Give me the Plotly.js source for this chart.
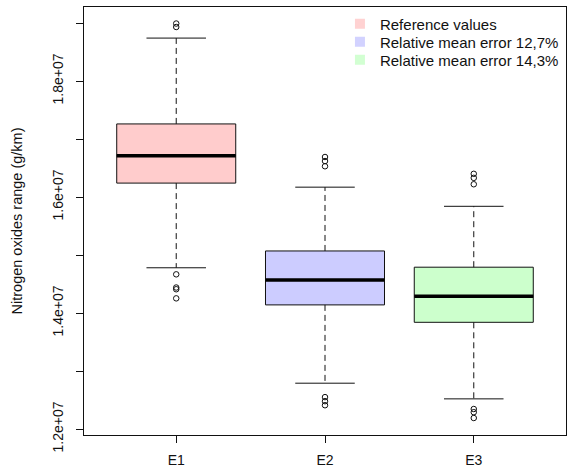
<!DOCTYPE html>
<html>
<head>
<meta charset="utf-8">
<script src="https://cdn.plot.ly/plotly-3.0.1.min.js"></script>
<style>html,body{margin:0;padding:0;background:#fff;}#chart{width:569px;height:475px;}</style>
</head>
<body>
<div id="chart"></div>
<script>
// ---- data ----
const categories = ['E1', 'E2', 'E3'];
const seriesNames = ['Reference values', 'Relative mean error 12,7%', 'Relative mean error 14,3%'];
const q1 = [1.624e7, 1.414e7, 1.384e7];
const median = [1.671e7, 1.457e7, 1.429e7];
const q3 = [1.726e7, 1.507e7, 1.479e7];
const lowerWhisker = [1.478e7, 1.279e7, 1.252e7];
const upperWhisker = [1.874e7, 1.617e7, 1.584e7];
const outliersE1 = [1.8991e7, 1.8931e7, 1.4667e7, 1.4440e7, 1.4410e7, 1.4253e7];
const outliersE2 = [1.669e7, 1.662e7, 1.653e7, 1.255e7, 1.248e7, 1.241e7];
const outliersE3 = [1.640e7, 1.633e7, 1.622e7, 1.2345e7, 1.229e7, 1.219e7];
const outliers = [outliersE1, outliersE2, outliersE3];
const yTickValues = [1.2e7, 1.3e7, 1.4e7, 1.5e7, 1.6e7, 1.7e7, 1.8e7, 1.9e7];
const yTickLabels = ['1.2e+07', '', '1.4e+07', '', '1.6e+07', '', '1.8e+07', ''];

// ---- style ----
const fills = ['rgb(255,204,204)', 'rgb(204,204,255)', 'rgb(204,255,204)'];
const legendFills = ['rgb(255,210,210)', 'rgb(210,210,255)', 'rgb(210,255,210)'];
const boxWidth = 0.8;
const capWidth = 0.4;
const FONT = 'Liberation Sans, Arial, sans-serif';
const legendIds = ['legend', 'legend2', 'legend3'];
const legendRowY = [0.960, 0.918, 0.876];

const positions = categories.map((c, i) => i + 1);
const traces = [];

// boxes
positions.forEach((p, i) => {
  traces.push({
    type: 'box', x: [p], q1: [q1[i]], median: [median[i]], q3: [q3[i]],
    lowerfence: [q1[i]], upperfence: [q3[i]],
    width: boxWidth, whiskerwidth: 0,
    fillcolor: fills[i], line: {color: '#111', width: 1},
    boxpoints: false, showlegend: false, hoverinfo: 'skip'
  });
});

// dashed whiskers
positions.forEach((p, i) => {
  traces.push({
    type: 'scatter', mode: 'lines',
    x: [p, p, null, p, p],
    y: [q3[i], upperWhisker[i], null, q1[i], lowerWhisker[i]],
    line: {color: '#111', width: 1, dash: '6px,4px'},
    showlegend: false, hoverinfo: 'skip'
  });
});

// caps
positions.forEach((p, i) => {
  traces.push({
    type: 'scatter', mode: 'lines',
    x: [p - capWidth / 2, p + capWidth / 2, null, p - capWidth / 2, p + capWidth / 2],
    y: [upperWhisker[i], upperWhisker[i], null, lowerWhisker[i], lowerWhisker[i]],
    line: {color: '#111', width: 1},
    showlegend: false, hoverinfo: 'skip'
  });
});

// medians
positions.forEach((p, i) => {
  traces.push({
    type: 'scatter', mode: 'lines',
    x: [p - boxWidth / 2, p + boxWidth / 2],
    y: [median[i], median[i]],
    line: {color: '#000', width: 3.5},
    showlegend: false, hoverinfo: 'skip'
  });
});

// outliers
positions.forEach((p, i) => {
  traces.push({
    type: 'scatter', mode: 'markers',
    x: outliers[i].map(() => p), y: outliers[i],
    marker: {symbol: 'circle-open', size: 5.5, color: '#111', line: {width: 1, color: '#111'}},
    showlegend: false, hoverinfo: 'skip'
  });
});

// legend entries (one legend per row for exact spacing)
seriesNames.forEach((n, i) => {
  traces.push({
    type: 'scatter', mode: 'markers', x: [null], y: [null], name: n,
    legend: legendIds[i],
    marker: {symbol: 'square', size: 10, color: legendFills[i]},
    showlegend: true
  });
});

const legendBase = (yy) => ({
  x: 0.531, y: yy, xanchor: 'left', yanchor: 'middle',
  bgcolor: 'rgba(0,0,0,0)', borderwidth: 0,
  font: {family: FONT, size: 15, color: '#111'},
  itemclick: false
});

const layout = {
  width: 569, height: 475,
  margin: {l: 84, r: 3, t: 7, b: 40},
  paper_bgcolor: '#fff', plot_bgcolor: '#fff',
  font: {family: FONT, size: 14, color: '#111'},
  showlegend: true,
  legend: legendBase(legendRowY[0]),
  legend2: legendBase(legendRowY[1]),
  legend3: legendBase(legendRowY[2]),
  xaxis: {
    range: [0.38, 3.62], tickmode: 'array', tickvals: positions, ticktext: categories,
    showgrid: false, zeroline: false, showline: true, mirror: true,
    linecolor: '#111', linewidth: 1,
    ticks: 'outside', ticklen: 7, tickcolor: '#111', tickwidth: 1,
    ticklabelstandoff: 5,
    tickfont: {family: FONT, size: 14, color: '#111'}
  },
  yaxis: {
    range: [1.1897e7, 1.9276e7], tickmode: 'array', tickvals: yTickValues, ticktext: yTickLabels,
    tickangle: -90,
    showgrid: false, zeroline: false, showline: true, mirror: true,
    linecolor: '#111', linewidth: 1,
    ticks: 'outside', ticklen: 7, tickcolor: '#111', tickwidth: 1,
    ticklabelstandoff: 7,
    tickfont: {family: FONT, size: 14, color: '#111'},
    title: {text: 'Nitrogen oxides range (g/km)', font: {family: FONT, size: 14.5, color: '#111'}, standoff: 24}
  }
};

Plotly.newPlot('chart', traces, layout, {displayModeBar: false, staticPlot: true});
</script>
</body>
</html>
